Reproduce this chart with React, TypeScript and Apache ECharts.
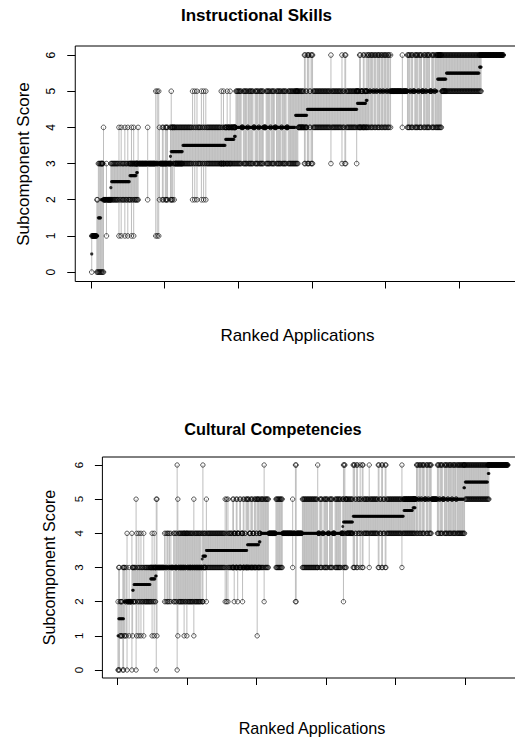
import React, { useEffect, useRef } from "react";
import * as echarts from "echarts";

// ---- data ----
const scoreTicks = [0, 1, 2, 3, 4, 5, 6];
const rankTicks = [0, 100, 200, 300, 400, 500];
const panelTitles = ["Instructional Skills", "Cultural Competencies"];
const yTitle = "Subcomponent Score";
const xTitle = "Ranked Applications";

// runs of ranked applications: [number of applications, reviewer scores (one digit per reviewer)]
const instructionalRuns: [number, string][] = [
  [1, "01"], [6, "11"], [2, "02"], [4, "03"], [3, "033"], [1, "024"], [3, "22"], [1, "13"], [5, "22"],
  [1, "223"],
  [10, "23"], [1, "14"], [2, "23"], [1, "14"], [4, "23"], [1, "14"], [3, "23"], [1, "14"], [2, "23"],
  [2, "233"], [1, "134"], [2, "233"], [1, "134"], [3, "233"],
  [2, "2333"],
  [1, "24"], [12, "33"], [1, "24"], [10, "33"], [1, "15"], [1, "33"], [1, "15"], [1, "33"], [1, "15"], [1, "24"],
  [3, "33"], [2, "2334"], [2, "33"], [3, "2334"], [1, "24"], [3, "33"],
  [1, "23344"],
  [1, "235"], [2, "244"], [1, "334"], [1, "244"], [11, "334"],
  [13, "34"], [1, "25"], [2, "34"], [1, "25"], [2, "34"], [1, "25"], [5, "34"], [1, "25"], [2, "34"], [1, "25"],
  [2, "34"], [1, "25"], [20, "34"], [1, "3335"], [2, "34"], [1, "3335"], [2, "34"],
  [2, "344"], [1, "335"], [3, "344"], [1, "335"], [5, "344"],
  [2, "3444"],
  [8, "35"], [2, "44"], [6, "35"], [1, "44"], [7, "35"], [2, "44"], [5, "35"], [1, "44"], [6, "35"], [3, "44"],
  [6, "35"], [1, "44"], [5, "35"], [2, "44"], [7, "35"], [1, "44"], [6, "35"], [2, "44"], [10, "35"],
  [4, "355"], [8, "445"], [2, "346"], [2, "445"],
  [3, "36"], [2, "45"], [3, "36"], [24, "45"], [1, "36"], [14, "45"], [1, "36"], [3, "45"], [2, "36"], [14, "45"], [1, "3555"],
  [3, "455"], [2, "446"], [3, "455"], [2, "446"], [2, "455"],
  [1, "4456"], [1, "4555"],
  [3, "46"], [1, "55"], [4, "46"], [1, "55"], [3, "46"], [1, "55"], [4, "46"], [1, "55"], [3, "46"], [1, "55"],
  [4, "46"], [1, "55"], [3, "46"], [1, "55"], [1, "46"], [15, "55"], [1, "46"], [6, "55"],
  [4, "46"], [1, "55"], [3, "46"], [2, "55"], [5, "46"], [1, "55"], [4, "46"], [2, "55"], [3, "46"], [1, "55"],
  [5, "46"], [2, "55"], [4, "46"], [1, "55"], [3, "46"],
  [6, "466"], [6, "556"],
  [45, "56"],
  [3, "566"],
  [30, "66"],
];

const culturalRuns: [number, string][] = [
  [1, "02"],
  [2, "03"], [4, "12"], [2, "03"],
  [2, "13"], [1, "22"], [1, "13"], [1, "04"], [2, "22"], [1, "13"], [3, "22"], [1, "04"],
  [1, "133"], [1, "223"],
  [3, "23"], [1, "05"], [1, "14"], [2, "23"], [1, "14"], [2, "23"], [1, "14"], [3, "23"], [1, "14"], [9, "23"],
  [2, "233"], [1, "134"], [2, "233"], [1, "134"], [1, "233"],
  [1, "2333"], [1, "0335"],
  [1, "15"], [10, "33"], [1, "24"], [1, "33"], [1, "24"], [1, "33"], [2, "24"], [1, "33"], [1, "24"], [1, "33"],
  [1, "24"], [3, "33"], [2, "24"], [1, "33"], [2, "2334"], [1, "06"], [1, "15"], [2, "2334"], [1, "24"], [2, "2334"],
  [1, "24"], [2, "2334"], [1, "144"], [2, "2334"], [1, "24"], [1, "144"], [2, "2334"], [1, "24"], [1, "2334"],
  [2, "2334"], [1, "24"], [2, "2334"], [1, "15"], [2, "2334"], [1, "24"], [2, "2334"], [1, "24"], [2, "2334"],
  [1, "24"], [1, "2334"], [1, "33"],
  [1, "2344"],
  [1, "226"], [4, "334"],
  [1, "25"], [26, "34"], [1, "25"], [1, "34"], [1, "25"], [1, "34"], [1, "25"], [6, "34"], [2, "3335"], [1, "2444"],
  [2, "34"], [2, "3335"], [1, "2444"], [2, "34"], [2, "3335"], [2, "34"], [1, "2444"], [2, "3335"], [2, "34"], [2, "3335"],
  [3, "335"], [2, "344"], [3, "335"], [2, "344"], [3, "335"], [1, "344"], [1, "155"], [2, "335"],
  [1, "3345"], [1, "3444"],
  [5, "35"], [1, "26"], [6, "35"], [10, "44"], [10, "35"], [14, "44"], [1, "35"], [3, "44"], [2, "26"], [8, "44"],
  [22, "35"], [1, "336"], [2, "44"], [4, "35"], [2, "44"], [6, "35"], [2, "44"], [5, "35"], [3, "44"], [9, "35"], [2, "44"],
  [1, "34455"],
  [1, "256"], [2, "346"], [2, "355"], [9, "445"],
  [3, "36"], [2, "45"], [2, "36"], [3, "45"], [1, "36"], [2, "45"], [2, "36"], [5, "45"], [3, "45"], [1, "36"],
  [12, "45"], [2, "36"], [3, "45"], [2, "36"], [3, "45"], [2, "36"], [22, "45"], [1, "36"], [2, "45"],
  [13, "455"],
  [4, "4555"],
  [1, "55"], [3, "46"], [1, "55"], [3, "46"], [1, "55"], [4, "46"], [2, "55"], [3, "46"], [1, "55"], [4, "46"],
  [8, "55"], [3, "46"], [1, "55"], [4, "46"], [2, "55"], [5, "46"], [1, "55"], [5, "46"], [1, "55"], [5, "46"],
  [1, "55"], [10, "46"],
  [2, "466"],
  [33, "56"],
  [2, "5666"],
  [27, "66"],
];

const FONT = '"Liberation Sans", Arial, Helvetica, sans-serif';

function expand(runs: [number, string][]): number[][] {
  const apps: number[][] = [];
  runs.forEach(([n, s]) => {
    for (let k = 0; k < n; k++) apps.push(s.split("").map(Number));
  });
  return apps;
}

function buildPanel(runs: [number, string][], idx: number, circleSize: number, dotSize: number) {
  const apps = expand(runs);
  const ranges: number[][] = [];
  const circles: number[][] = [];
  const means: number[][] = [];
  apps.forEach((sc, i) => {
    const rank = i + 1;
    const lo = Math.min(...sc);
    const hi = Math.max(...sc);
    if (hi > lo) ranges.push([rank, lo, hi]);
    sc.forEach((v) => circles.push([rank, v]));
    means.push([rank, sc.reduce((a, b) => a + b, 0) / sc.length]);
  });
  return [
    {
      type: "custom",
      xAxisIndex: idx,
      yAxisIndex: idx,
      silent: true,
      encode: { x: 0, y: [1, 2] },
      data: ranges,
      renderItem: (_p: any, api: any) => {
        const a = api.coord([api.value(0), api.value(1)]);
        const b = api.coord([api.value(0), api.value(2)]);
        return {
          type: "line",
          shape: { x1: a[0], y1: a[1], x2: b[0], y2: b[1] },
          style: { stroke: "#bebebe", lineWidth: 1 },
        };
      },
    },
    {
      type: "scatter",
      xAxisIndex: idx,
      yAxisIndex: idx,
      silent: true,
      symbol: "circle",
      symbolSize: circleSize,
      itemStyle: { color: "rgba(0,0,0,0)", borderColor: "#000", borderWidth: 0.8 },
      data: circles,
    },
    {
      type: "scatter",
      xAxisIndex: idx,
      yAxisIndex: idx,
      silent: true,
      symbol: "circle",
      symbolSize: dotSize,
      itemStyle: { color: "#000" },
      data: means,
    },
  ];
}

function xAxisFor(idx: number) {
  return {
    gridIndex: idx,
    type: "value",
    position: "bottom",
    min: -21.4,
    max: 582.4,
    axisLine: { show: false, onZero: false },
    axisTick: { show: true, length: 7, customValues: rankTicks, lineStyle: { color: "#000", width: 1 } },
    axisLabel: { show: false },
    splitLine: { show: false },
  };
}

function yAxisFor(idx: number, min: number, max: number, fontSize: number, margin: number, tick: number) {
  return {
    gridIndex: idx,
    type: "value",
    position: "left",
    min,
    max,
    axisLine: { show: false, onZero: false },
    axisTick: { show: true, length: tick, customValues: scoreTicks, lineStyle: { color: "#000", width: 1 } },
    axisLabel: {
      show: true,
      customValues: scoreTicks,
      rotate: 90,
      margin,
      fontSize,
      color: "#000",
      fontFamily: FONT,
    },
    splitLine: { show: false },
  };
}

function textEl(text: string, x: number, y: number, size: number, bold: boolean, rotate: boolean) {
  return {
    type: "text",
    x,
    y,
    rotation: rotate ? Math.PI / 2 : 0,
    silent: true,
    style: {
      text,
      fontSize: size,
      fontWeight: bold ? "bold" : "normal",
      fontFamily: FONT,
      fill: "#000",
      align: "center",
      verticalAlign: "middle",
      textAlign: "center",
      textVerticalAlign: "middle",
    },
  };
}

export default function App() {
  const ref = useRef<HTMLDivElement>(null);
  useEffect(() => {
    document.body.style.margin = "0";
    if (!ref.current) return;
    const chart = echarts.init(ref.current, undefined, { renderer: "svg" });
    const option: any = {
      animation: false,
      backgroundColor: "#fff",
      grid: [
        { left: 75.25, top: 46, width: 444.4, height: 235.5, show: true, borderColor: "#000", borderWidth: 1, backgroundColor: "transparent" },
        { left: 102.4, top: 457, width: 420.2, height: 221, show: true, borderColor: "#000", borderWidth: 1, backgroundColor: "transparent" },
      ],
      xAxis: [xAxisFor(0), xAxisFor(1)],
      yAxis: [yAxisFor(0, -0.26, 6.25, 12, 18, 8), yAxisFor(1, -0.234, 6.234, 11.5, 17, 7.5)],
      graphic: [
        textEl(panelTitles[0], 256.5, 15.5, 17, true, false),
        textEl(yTitle, 23.5, 164, 17, false, true),
        textEl(xTitle, 297.4, 335, 17, false, false),
        textEl(panelTitles[1], 273, 428.5, 16.3, true, false),
        textEl(yTitle, 49.3, 567.5, 16.2, false, true),
        textEl(xTitle, 312, 727.5, 16.2, false, false),
      ],
      series: [
        ...buildPanel(instructionalRuns, 0, 4.6, 3.2),
        ...buildPanel(culturalRuns, 1, 4.4, 3.0),
      ],
    };
    chart.setOption(option);
    return () => chart.dispose();
  }, []);
  return (
    <div style={{ width: 515, height: 738, overflow: "hidden", position: "relative", background: "#fff" }}>
      <div ref={ref} style={{ width: 540, height: 738 }} />
    </div>
  );
}
